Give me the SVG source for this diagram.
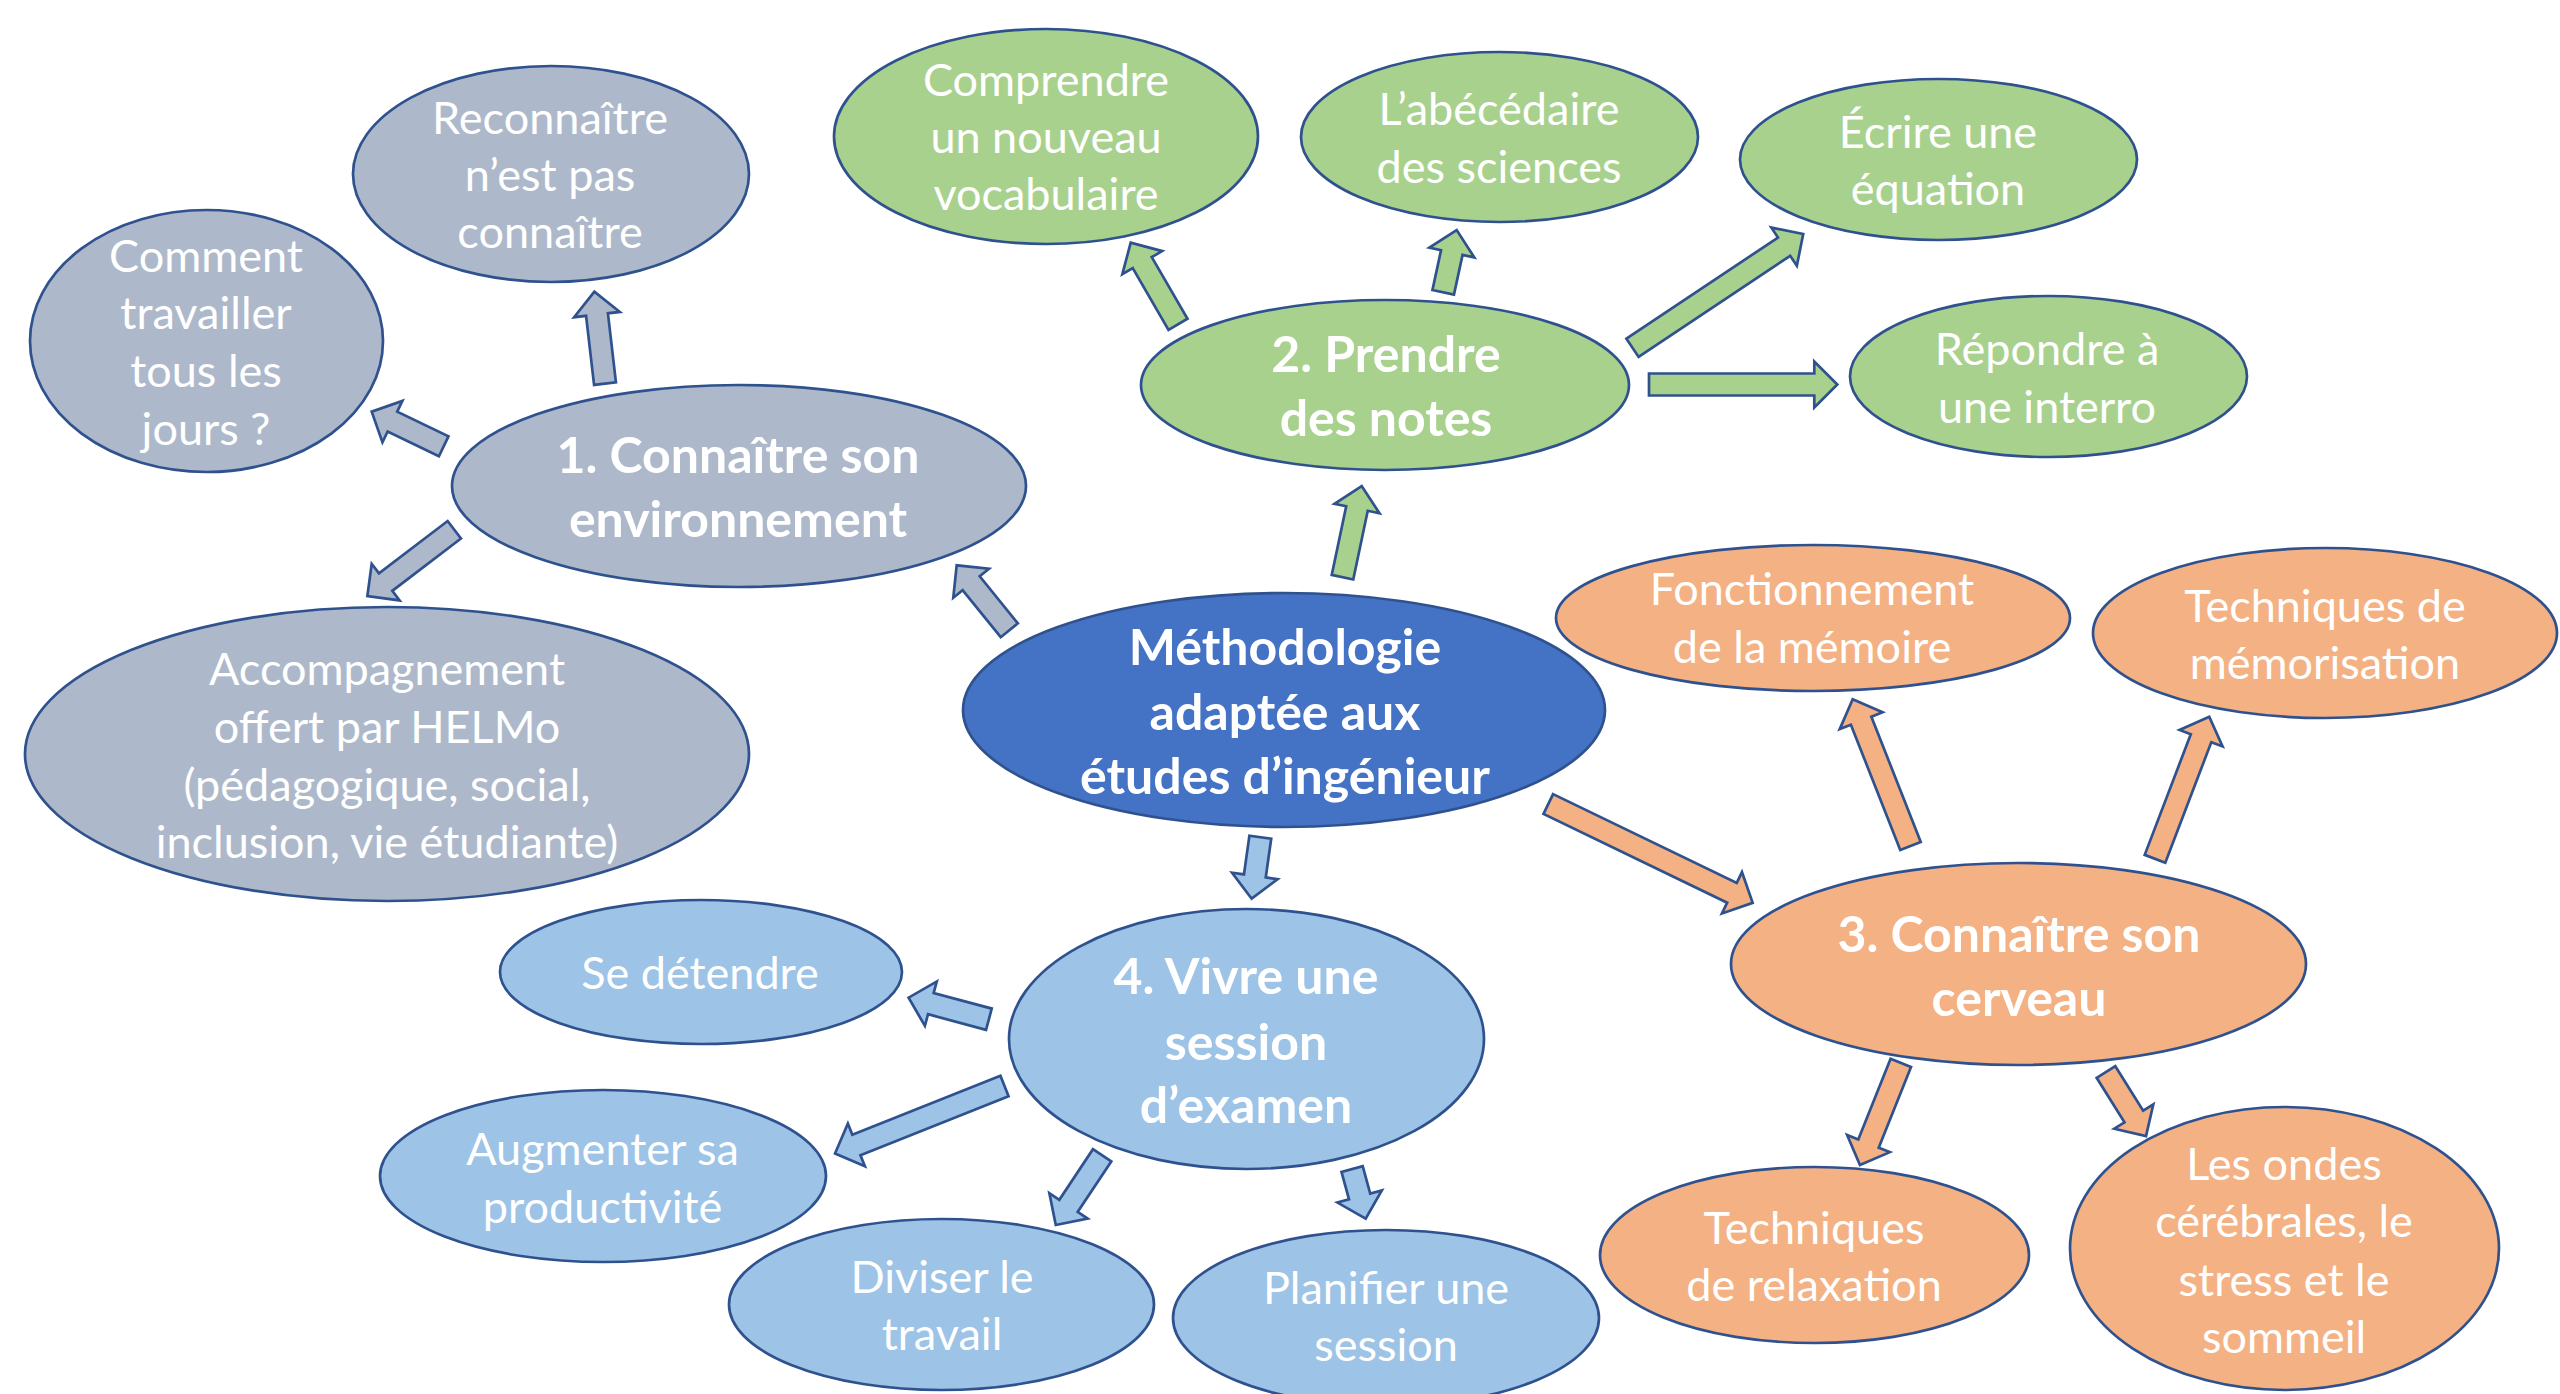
<svg xmlns="http://www.w3.org/2000/svg" width="2560" height="1394" viewBox="0 0 2560 1394">
<style>
.n{stroke:#2F528F;stroke-width:2.7}
.gray{fill:#ADB9CA}.green{fill:#A9D18E}.blue{fill:#4472C4}.orange{fill:#F4B183}.lblue{fill:#9DC3E6}
.a{stroke:#2F528F;stroke-width:2.7;stroke-linejoin:miter}
text{fill:#FFFFFF;text-anchor:middle;font-family:Lato,"Open Sans","Liberation Sans",sans-serif}
.t{font-size:45px}
.b{font-size:50px;font-weight:bold}
</style>
<rect width="2560" height="1394" fill="#FFFFFF"/>
<g id="connectors">
<path class="a gray" transform="translate(1009.3,630.3) rotate(-129)" d="M0,-11H60.6V-23L83.6,0L60.6,23V11H0Z"/>
<path class="a gray" transform="translate(605,383.7) rotate(-96.6)" d="M0,-11H69.6V-23L92.6,0L69.6,23V11H0Z"/>
<path class="a gray" transform="translate(443.7,446.3) rotate(-154.3)" d="M0,-11H56.9V-23L79.9,0L56.9,23V11H0Z"/>
<path class="a gray" transform="translate(454.3,529.8) rotate(142.7)" d="M0,-11H86.3V-23L109.3,0L86.3,23V11H0Z"/>
<path class="a green" transform="translate(1342.5,577.2) rotate(-78.1)" d="M0,-11H70.2V-23L93.2,0L70.2,23V11H0Z"/>
<path class="a green" transform="translate(1178,324.3) rotate(-120.1)" d="M0,-11H71.3V-23L94.3,0L71.3,23V11H0Z"/>
<path class="a green" transform="translate(1443.2,292.3) rotate(-77.8)" d="M0,-11H40.7V-23L63.7,0L40.7,23V11H0Z"/>
<path class="a green" transform="translate(1632.5,347.8) rotate(-33.7)" d="M0,-11H182.2V-23L205.2,0L182.2,23V11H0Z"/>
<path class="a green" transform="translate(1649,384.5) rotate(0)" d="M0,-11H165.3V-23L188.3,0L165.3,23V11H0Z"/>
<path class="a orange" transform="translate(1548.3,804) rotate(25.8)" d="M0,-11H204V-23L227,0L204,23V11H0Z"/>
<path class="a orange" transform="translate(1910.5,846) rotate(-111.5)" d="M0,-11H134.7V-23L157.7,0L134.7,23V11H0Z"/>
<path class="a orange" transform="translate(2155,858.8) rotate(-69.1)" d="M0,-11H129.1V-23L152.1,0L129.1,23V11H0Z"/>
<path class="a orange" transform="translate(1900.8,1062.8) rotate(111.8)" d="M0,-11H87V-23L110,0L87,23V11H0Z"/>
<path class="a orange" transform="translate(2106,1072) rotate(58)" d="M0,-11H52.5V-23L75.5,0L52.5,23V11H0Z"/>
<path class="a lblue" transform="translate(1260.3,837.2) rotate(98)" d="M0,-11H39.1V-23L62.1,0L39.1,23V11H0Z"/>
<path class="a lblue" transform="translate(988.9,1019.2) rotate(-165)" d="M0,-11H60.1V-23L83.1,0L60.1,23V11H0Z"/>
<path class="a lblue" transform="translate(1004.5,1086) rotate(158.3)" d="M0,-11H159.4V-23L182.4,0L159.4,23V11H0Z"/>
<path class="a lblue" transform="translate(1102.1,1155.3) rotate(123.6)" d="M0,-11H60.7V-23L83.7,0L60.7,23V11H0Z"/>
<path class="a lblue" transform="translate(1352.1,1169) rotate(74.7)" d="M0,-11H28.5V-23L51.5,0L28.5,23V11H0Z"/>
</g>
<g id="node-methodologie">
<ellipse class="n blue" cx="1284" cy="710" rx="321" ry="117"/>
<text class="b"><tspan x="1285" y="665">Méthodologie</tspan><tspan x="1285" y="730">adaptée aux</tspan><tspan x="1285" y="794">études d’ingénieur</tspan></text>
</g>
<g id="node-environnement">
<ellipse class="n gray" cx="739" cy="486" rx="287" ry="101"/>
<text class="b"><tspan x="738" y="473">1. Connaître son</tspan><tspan x="738" y="537">environnement</tspan></text>
</g>
<g id="node-reconnaitre">
<ellipse class="n gray" cx="551" cy="174" rx="198" ry="108"/>
<text class="t"><tspan x="550" y="134">Reconnaître</tspan><tspan x="550" y="191">n’est pas</tspan><tspan x="550" y="248">connaître</tspan></text>
</g>
<g id="node-comment">
<ellipse class="n gray" cx="206.5" cy="341" rx="176.5" ry="131"/>
<text class="t"><tspan x="206" y="272">Comment</tspan><tspan x="206" y="329">travailler</tspan><tspan x="206" y="387">tous les</tspan><tspan x="206" y="445">jours ?</tspan></text>
</g>
<g id="node-accompagnement">
<ellipse class="n gray" cx="387" cy="754" rx="362" ry="147"/>
<text class="t"><tspan x="387" y="685">Accompagnement</tspan><tspan x="387" y="743">offert par HELMo</tspan><tspan x="387" y="801">(pédagogique, social,</tspan><tspan x="387" y="858">inclusion, vie étudiante)</tspan></text>
</g>
<g id="node-prendre">
<ellipse class="n green" cx="1385" cy="385" rx="244" ry="85"/>
<text class="b"><tspan x="1386" y="372">2. Prendre</tspan><tspan x="1386" y="436">des notes</tspan></text>
</g>
<g id="node-comprendre">
<ellipse class="n green" cx="1046" cy="136.5" rx="212" ry="107.5"/>
<text class="t"><tspan x="1046" y="96">Comprendre</tspan><tspan x="1046" y="153">un nouveau</tspan><tspan x="1046" y="210">vocabulaire</tspan></text>
</g>
<g id="node-abecedaire">
<ellipse class="n green" cx="1499.5" cy="137" rx="198.5" ry="85"/>
<text class="t"><tspan x="1499" y="125">L’abécédaire</tspan><tspan x="1499" y="183">des sciences</tspan></text>
</g>
<g id="node-ecrire">
<ellipse class="n green" cx="1938.5" cy="159.5" rx="198.5" ry="80.5"/>
<text class="t"><tspan x="1938" y="148">Écrire une</tspan><tspan x="1938" y="205">équation</tspan></text>
</g>
<g id="node-repondre">
<ellipse class="n green" cx="2048.5" cy="376.5" rx="198.5" ry="80.5"/>
<text class="t"><tspan x="2047" y="365">Répondre à</tspan><tspan x="2047" y="423">une interro</tspan></text>
</g>
<g id="node-cerveau">
<ellipse class="n orange" cx="2018.5" cy="964" rx="287.5" ry="101"/>
<text class="b"><tspan x="2019" y="952">3. Connaître son</tspan><tspan x="2019" y="1016">cerveau</tspan></text>
</g>
<g id="node-fonctionnement">
<ellipse class="n orange" cx="1813" cy="618" rx="257" ry="73"/>
<text class="t"><tspan x="1812" y="605">Fonctionnement</tspan><tspan x="1812" y="663">de la mémoire</tspan></text>
</g>
<g id="node-memorisation">
<ellipse class="n orange" cx="2325" cy="633" rx="232" ry="85"/>
<text class="t"><tspan x="2325" y="622">Techniques de</tspan><tspan x="2325" y="679">mémorisation</tspan></text>
</g>
<g id="node-relaxation">
<ellipse class="n orange" cx="1814.5" cy="1255" rx="214.5" ry="88"/>
<text class="t"><tspan x="1814" y="1244">Techniques</tspan><tspan x="1814" y="1301">de relaxation</tspan></text>
</g>
<g id="node-ondes">
<ellipse class="n orange" cx="2284.5" cy="1248.5" rx="214.5" ry="141.5"/>
<text class="t"><tspan x="2284" y="1180">Les ondes</tspan><tspan x="2284" y="1237">cérébrales, le</tspan><tspan x="2284" y="1296">stress et le</tspan><tspan x="2284" y="1353">sommeil</tspan></text>
</g>
<g id="node-examen">
<ellipse class="n lblue" cx="1246.5" cy="1039" rx="237.5" ry="130"/>
<text class="b"><tspan x="1246" y="994">4. Vivre une</tspan><tspan x="1246" y="1060">session</tspan><tspan x="1246" y="1123">d’examen</tspan></text>
</g>
<g id="node-detendre">
<ellipse class="n lblue" cx="701" cy="972" rx="201" ry="72"/>
<text class="t"><tspan x="700" y="989">Se détendre</tspan></text>
</g>
<g id="node-productivite">
<ellipse class="n lblue" cx="603" cy="1176" rx="223" ry="86"/>
<text class="t"><tspan x="602.5" y="1165">Augmenter sa</tspan><tspan x="602.5" y="1223">productivité</tspan></text>
</g>
<g id="node-diviser">
<ellipse class="n lblue" cx="941.5" cy="1304.5" rx="212.5" ry="85.5"/>
<text class="t"><tspan x="942" y="1293">Diviser le</tspan><tspan x="942" y="1350">travail</tspan></text>
</g>
<g id="node-planifier">
<ellipse class="n lblue" cx="1386" cy="1318" rx="213" ry="88"/>
<text class="t"><tspan x="1386" y="1304">Planifier une</tspan><tspan x="1386" y="1361">session</tspan></text>
</g>
</svg>
